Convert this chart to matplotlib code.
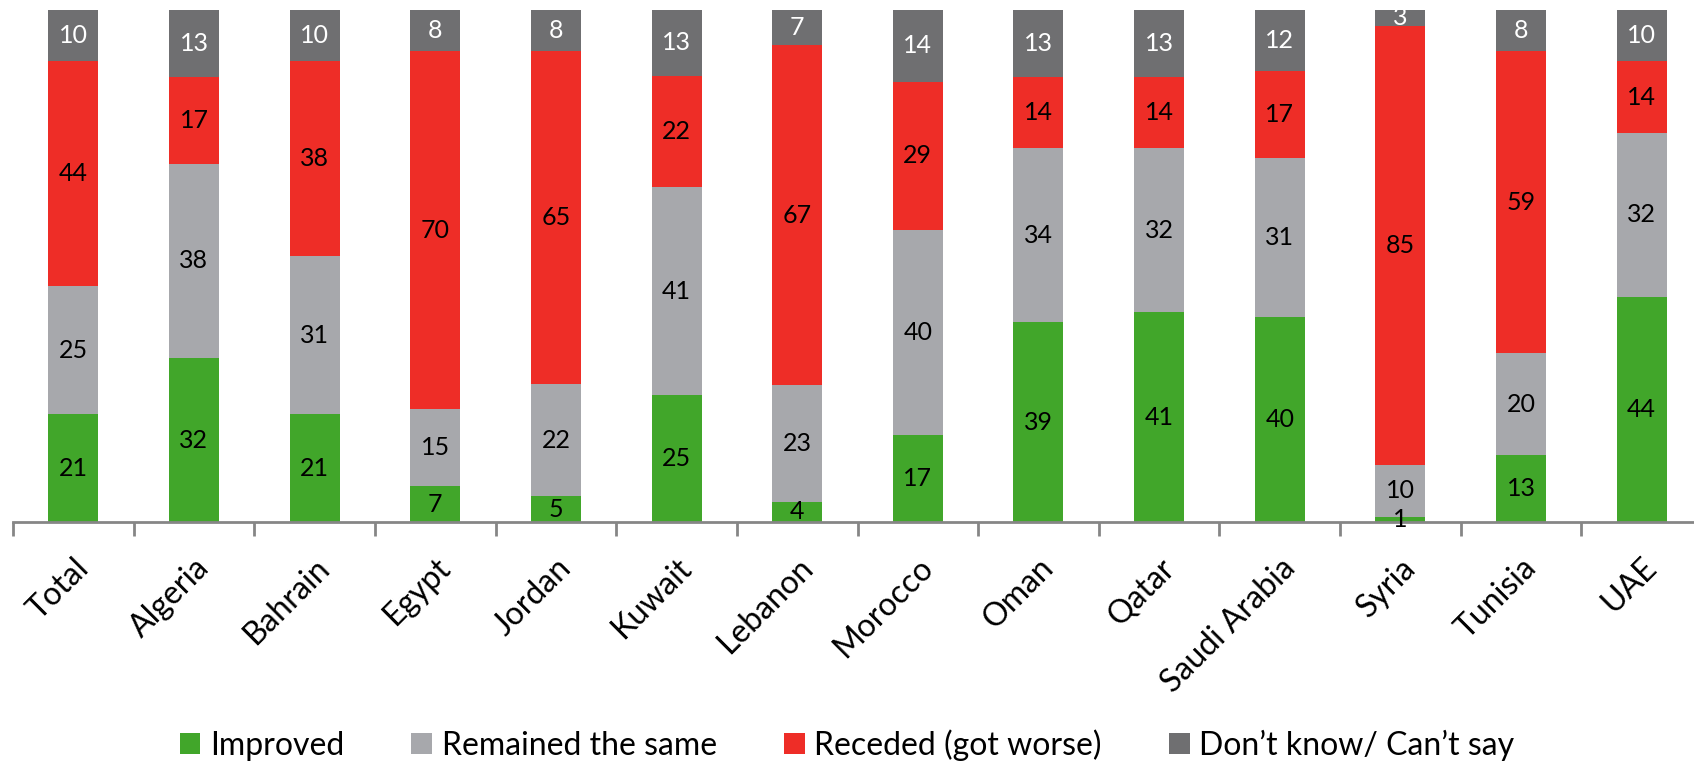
import matplotlib
matplotlib.use("Agg")
import matplotlib.pyplot as plt
import numpy as np

countries = ["Total", "Algeria", "Bahrain", "Egypt", "Jordan", "Kuwait", "Lebanon",
             "Morocco", "Oman", "Qatar", "Saudi Arabia", "Syria", "Tunisia", "UAE"]
improved = [21, 32, 21, 7, 5, 25, 4, 17, 39, 41, 40, 1, 13, 44]
same = [25, 38, 31, 15, 22, 41, 23, 40, 34, 32, 31, 10, 20, 32]
receded = [44, 17, 38, 70, 65, 22, 67, 29, 14, 14, 17, 85, 59, 14]
dont_know = [10, 13, 10, 8, 8, 13, 7, 14, 13, 13, 12, 3, 8, 10]

series_names = ["Improved", "Remained the same", "Receded (got worse)", "Don\u2019t know/ Can\u2019t say"]
colors = ["#41A62A", "#A7A8AC", "#EE2D27", "#6F6F71"]
label_colors = ["black", "black", "black", "white"]

plt.rcParams["font.family"] = ["Lato", "DejaVu Sans"]

W, H = 1694, 767
fig = plt.figure(figsize=(W / 100, H / 100), dpi=100)
ax = fig.add_axes([13 / W, (H - 522) / H, (1702 - 13) / W, 512 / H])

data = np.array([improved, same, receded, dont_know], dtype=float)
shares = data / data.sum(axis=0) * 100
x = np.arange(len(countries))
bottom = np.zeros(len(countries))
for vals, share, name, col, lc in zip(data, shares, series_names, colors, label_colors):
    ax.bar(x, share, bottom=bottom, width=0.415, color=col, label=name)
    for xi, b, s, v in zip(x, bottom, share, vals):
        ax.text(xi, b + s / 2, f"{int(v)}", ha="center", va="center",
                fontsize=18, color=lc)
    bottom += share

ax.set_xlim(-0.5, len(countries) - 0.5)
ax.set_ylim(0, 100)
for s in ["top", "right", "left"]:
    ax.spines[s].set_visible(False)
ax.spines["bottom"].set_color("#868686")
ax.spines["bottom"].set_linewidth(2)
ax.set_yticks([])
ax.set_xticks(x)
ax.set_xticklabels(countries, rotation=45, ha="right", rotation_mode="anchor", fontsize=23)
ax.tick_params(axis="x", which="major", length=0, pad=22)
ax.set_xticks(np.arange(-0.5, len(countries)), minor=True)
ax.tick_params(axis="x", which="minor", length=10, width=2, color="#868686")

fig.legend(*ax.get_legend_handles_labels(), loc="center", bbox_to_anchor=(0.5, (H - 745) / H),
           ncol=4, frameon=False, fontsize=23, handlelength=0.65, handleheight=0.65,
           handletextpad=0.3, columnspacing=2.1)

fig.savefig("out.png", dpi=100)
